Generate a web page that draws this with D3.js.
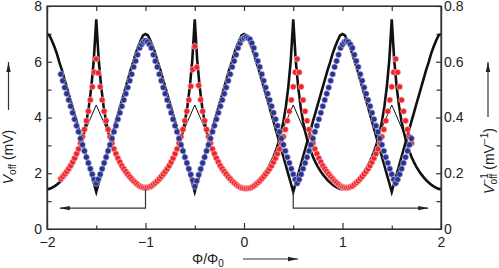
<html lang="en">
<head>
<meta charset="UTF-8">
<title>Voff vs flux</title>
<style>
  body { margin: 0; background: #fff; }
  text { font-family: "Liberation Sans", Arial, sans-serif; fill: #222; }
  .axis path, .axis line { stroke: #333; stroke-width: 1.2px; }
  .axis text { font-size: 14px; }
  .theory { fill: none; stroke: #111; stroke-width: 2.6px; }
  .thin { fill: none; stroke: #111; stroke-width: 1px; }
  .guide { fill: none; stroke: #333; stroke-width: 1.2px; }
</style>
</head>
<body>
<svg width="499" height="268"></svg>
<script src="https://cdn.jsdelivr.net/npm/d3@7"></script>
<script>

var width = 499, height = 268,
    margin = { left: 47, right: 58, top: 6, bottom: 39 };

// measured flux positions (Phi/Phi0) and offset voltage Voff (mV)
var phiData = d3.range(-1.86, 1.7001, 0.02);
var voffData = [
  1.80,1.88,1.97,2.06,2.16,2.27,2.40,2.54,2.70,2.87,3.08,3.31,3.57,3.88,4.22,4.63,5.10,5.62,6.10,
  5.60,5.10,4.63,4.22,3.88,3.57,3.31,3.08,2.87,2.70,2.54,2.40,2.27,2.16,2.06,1.97,1.88,1.80,1.72,1.66,1.60,1.54,1.51,1.49,1.48,
  1.49,1.51,1.54,1.60,1.66,1.72,1.80,1.88,1.97,2.06,2.16,2.27,2.40,2.54,2.70,2.87,3.08,3.31,3.57,3.88,4.22,4.63,5.12,5.72,6.55,
  5.80,5.15,4.64,4.22,3.88,3.57,3.31,3.08,2.87,2.70,2.54,2.40,2.27,2.16,2.06,1.97,1.88,1.80,1.72,1.66,1.60,1.54,1.50,1.47,1.46,1.45,
  1.46,1.47,1.50,1.54,1.60,1.66,1.72,1.80,1.88,1.97,2.06,2.16,2.27,2.40,2.54,2.70,2.87,3.08,3.31,3.57,3.88,4.22,4.63,5.10,5.62,6.10,
  5.62,5.10,4.63,4.22,3.88,3.57,3.31,3.08,2.87,2.70,2.54,2.40,2.27,2.16,2.06,1.97,1.88,1.80,1.72,1.66,1.60,1.54,1.51,1.49,1.48,
  1.49,1.51,1.54,1.60,1.66,1.72,1.80,1.88,1.97,2.06,2.16,2.27,2.40,2.54,2.70,2.87,3.08,3.31,3.57,3.88,4.22,4.63,5.10,5.62,6.10,
  5.62,5.10,4.63,4.22,3.88,3.57,3.31,3.08,2.87,2.70
];

// model curve Voff (mV)
var phiTheory = d3.range(-2, 2.001, 0.025);
var voffTheory = [
  1.43,1.44,1.48,1.53,1.59,1.67,1.75,1.85,1.96,2.09,2.23,2.40,2.59,2.83,3.10,3.44,3.85,4.39,5.10,6.06,7.52,
  6.06,5.10,4.39,3.85,3.44,3.10,2.83,2.59,2.40,2.23,2.09,1.96,1.85,1.75,1.67,1.59,1.53,1.48,1.44,1.43,
  1.44,1.48,1.53,1.59,1.67,1.75,1.85,1.96,2.09,2.23,2.40,2.59,2.83,3.10,3.44,3.85,4.39,5.10,6.06,7.52,
  6.06,5.10,4.39,3.85,3.44,3.10,2.83,2.59,2.40,2.23,2.09,1.96,1.85,1.75,1.67,1.59,1.53,1.48,1.44,1.43,
  1.44,1.48,1.53,1.59,1.67,1.75,1.85,1.96,2.09,2.23,2.40,2.59,2.83,3.10,3.44,3.85,4.39,5.10,6.06,7.52,
  6.06,5.10,4.39,3.85,3.44,3.10,2.83,2.59,2.40,2.23,2.09,1.96,1.85,1.75,1.67,1.59,1.53,1.48,1.44,1.43,
  1.44,1.48,1.53,1.59,1.67,1.75,1.85,1.96,2.09,2.23,2.40,2.59,2.83,3.10,3.44,3.85,4.39,5.10,6.06,7.52,
  6.06,5.10,4.39,3.85,3.44,3.10,2.83,2.59,2.40,2.23,2.09,1.96,1.85,1.75,1.67,1.59,1.53,1.48,1.44,1.43
];

// thin branches at the half-integer cusps [phi, Voff]
var thinLines = [
  [[-1.64, 3.30], [-1.5, 4.45], [-1.36, 3.30]],
  [[-0.64, 3.30], [-0.5, 4.45], [-0.36, 3.30]],
  [[0.36, 3.30], [0.5, 4.45], [0.64, 3.30]],
  [[1.36, 3.30], [1.5, 4.45], [1.64, 3.30]]
];

// axis guide arrows [phi, Voff]
var arrowLeft = [[-1, 1.42], [-1, 0.75], [-1.87, 0.75]];
var arrowRight = [[0.5, 1.33], [0.5, 0.75], [1.87, 0.75]];

var xTicks = [-2, -1, 0, 1, 2],
    xMinor = [-1.5, -0.5, 0.5, 1.5],
    yTicks = [0, 2, 4, 6, 8],
    yMinor = [1, 3, 5, 7],
    y2Ticks = [0, 0.2, 0.4, 0.6, 0.8],
    y2Minor = [0.1, 0.3, 0.5, 0.7];

var x = d3.scaleLinear().domain([-2, 2]).range([margin.left, width - margin.right]);
var y = d3.scaleLinear().domain([0, 8]).range([height - margin.bottom, margin.top]);
var y2 = d3.scaleLinear().domain([0, 0.8]).range([height - margin.bottom, margin.top]);

var svg = d3.select("svg");

var defs = svg.append("defs");
defs.append("clipPath").attr("id", "plot")
  .append("rect")
    .attr("x", margin.left).attr("y", margin.top)
    .attr("width", width - margin.left - margin.right)
    .attr("height", height - margin.top - margin.bottom);

defs.append("marker")
    .attr("id", "head")
    .attr("markerUnits", "userSpaceOnUse")
    .attr("viewBox", "0 0 10 6")
    .attr("refX", 10).attr("refY", 3)
    .attr("markerWidth", 10).attr("markerHeight", 6)
    .attr("orient", "auto")
  .append("path")
    .attr("d", "M0,0.8L10,3L0,5.2Z")
    .attr("fill", "#222");

var fmt = function(d) { return d < 0 ? "\u2212" + Math.abs(d) : d; };

// axes with inward ticks
var bottom = height - margin.bottom, right = width - margin.right;

svg.append("g").attr("class", "axis")
  .attr("transform", "translate(0," + bottom + ")")
  .call(d3.axisBottom(x).tickValues(xTicks).tickSizeInner(-6).tickSizeOuter(0).tickPadding(8).tickFormat(fmt));
svg.append("g").attr("class", "axis")
  .attr("transform", "translate(0," + bottom + ")")
  .call(d3.axisBottom(x).tickValues(xMinor).tickSizeInner(-3.5).tickSizeOuter(0).tickFormat(""));
svg.append("g").attr("class", "axis")
  .attr("transform", "translate(0," + margin.top + ")")
  .call(d3.axisTop(x).tickValues(xTicks.concat(xMinor)).tickSizeInner(-5).tickSizeOuter(0).tickFormat(""));

svg.append("g").attr("class", "axis")
  .attr("transform", "translate(" + margin.left + ",0)")
  .call(d3.axisLeft(y).tickValues(yTicks).tickSizeInner(-5).tickSizeOuter(0).tickPadding(5));
svg.append("g").attr("class", "axis")
  .attr("transform", "translate(" + margin.left + ",0)")
  .call(d3.axisLeft(y).tickValues(yMinor).tickSizeInner(-4.5).tickSizeOuter(0).tickFormat(""));

svg.append("g").attr("class", "axis")
  .attr("transform", "translate(" + right + ",0)")
  .call(d3.axisRight(y2).tickValues(y2Ticks).tickSizeInner(-5).tickSizeOuter(0).tickPadding(3)
    .tickFormat(function(d) { return d === 0 ? "0" : d3.format(".1f")(d); }));
svg.append("g").attr("class", "axis")
  .attr("transform", "translate(" + right + ",0)")
  .call(d3.axisRight(y2).tickValues(y2Minor).tickSizeInner(-4.5).tickSizeOuter(0).tickFormat(""));

// curves and points
var plot = svg.append("g").attr("clip-path", "url(#plot)");

var theory = phiTheory.map(function(p, i) { return [p, voffTheory[i]]; });
var data = phiData.map(function(p, i) { return [p, voffData[i]]; });

plot.append("path").attr("class", "theory")
  .attr("d", d3.line().x(function(d) { return x(d[0]); }).y(function(d) { return y(d[1]); })(theory));
plot.append("path").attr("class", "theory")
  .attr("d", d3.line().x(function(d) { return x(d[0]); }).y(function(d) { return y2(1 / d[1]); })(theory));

plot.selectAll("path.thin").data(thinLines).enter().append("path")
  .attr("class", "thin")
  .attr("d", d3.line().x(function(d) { return x(d[0]); }).y(function(d) { return y(d[1]); }));

plot.selectAll("circle.red").data(data).enter().append("circle")
  .attr("class", "red")
  .attr("cx", function(d) { return x(d[0]); })
  .attr("cy", function(d) { return y(d[1]); })
  .attr("r", 3)
  .attr("fill", "#ee252b")
  .attr("stroke", "#ffd0d0").attr("stroke-width", 0.6);

plot.selectAll("circle.blue").data(data).enter().append("circle")
  .attr("class", "blue")
  .attr("cx", function(d) { return x(d[0]); })
  .attr("cy", function(d) { return y2(1 / d[1]); })
  .attr("r", 3)
  .attr("fill", "#2b3391")
  .attr("stroke", "#c8cce8").attr("stroke-width", 0.6);

// guide arrows
var guide = d3.line().x(function(d) { return x(d[0]); }).y(function(d) { return y(d[1]); });
[arrowLeft, arrowRight].forEach(function(a) {
  svg.append("path").attr("class", "guide").attr("d", guide(a)).attr("marker-end", "url(#head)");
});

// frame
svg.append("rect")
  .attr("x", margin.left).attr("y", margin.top)
  .attr("width", right - margin.left).attr("height", bottom - margin.top)
  .attr("fill", "none").attr("stroke", "#333").attr("stroke-width", 1.2);

// axis titles
var xl = svg.append("text").attr("x", 192).attr("y", 264).style("font-size", "14px");
xl.append("tspan").text("\u03A6/\u03A6");
xl.append("tspan").attr("dy", 3).style("font-size", "10px").text("0");
svg.append("line").attr("class", "guide")
  .attr("x1", 243).attr("y1", 259).attr("x2", 298).attr("y2", 259)
  .attr("marker-end", "url(#head)");

var yl = svg.append("text")
  .attr("transform", "translate(13,157) rotate(-90)")
  .attr("text-anchor", "middle").style("font-size", "14px");
yl.append("tspan").text("V").style("font-style", "italic");
yl.append("tspan").attr("dy", 3).style("font-size", "10px").text("off");
yl.append("tspan").attr("dy", -3).text(" (mV)");
svg.append("line").attr("class", "guide")
  .attr("x1", 8.5).attr("y1", 110).attr("x2", 8.5).attr("y2", 62)
  .attr("marker-end", "url(#head)");

var y2l = svg.append("text")
  .attr("transform", "translate(494,161) rotate(-90)")
  .attr("text-anchor", "middle").style("font-size", "14px");
y2l.append("tspan").text("V").style("font-style", "italic");
y2l.append("tspan").attr("dy", -6).style("font-size", "10px").text("\u22121");
y2l.append("tspan").attr("dx", -11.4).attr("dy", 9).style("font-size", "10px").text("off");
y2l.append("tspan").attr("dy", -3).text(" (mV");
y2l.append("tspan").attr("dy", -6).style("font-size", "10px").text("\u22121");
y2l.append("tspan").attr("dy", 6).text(")");
svg.append("line").attr("class", "guide")
  .attr("x1", 488).attr("y1", 117).attr("x2", 488).attr("y2", 62)
  .attr("marker-end", "url(#head)");

</script>
</body>
</html>
